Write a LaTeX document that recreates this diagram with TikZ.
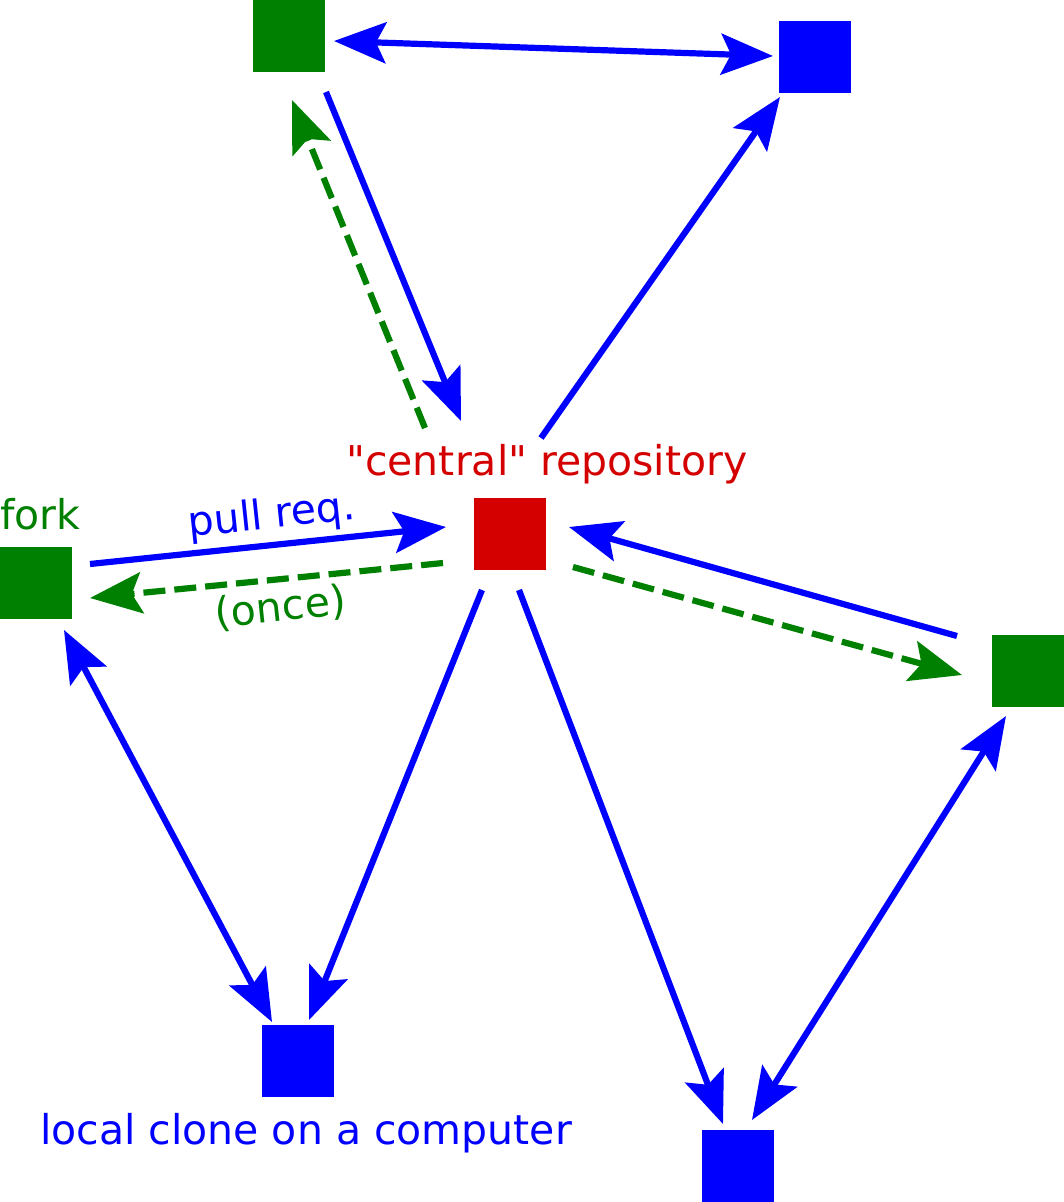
\documentclass[tikz,border=0pt]{standalone}
\usepackage{fontspec}
\setmainfont{DejaVu Sans}
\usetikzlibrary{arrows.meta}

\definecolor{repored}{RGB}{212,0,0}
\definecolor{forkgreen}{RGB}{0,128,0}
\definecolor{cloneblue}{RGB}{0,0,255}

\tikzset{
  repo/.style={rectangle, minimum size=72pt, inner sep=0pt, fill=#1},
  flow/.style={line width=6.2pt, draw=cloneblue, -{Stealth[length=52pt,width=41pt,inset=10pt]}},
  twoway/.style={flow, {Stealth[length=52pt,width=41pt,inset=10pt]}-{Stealth[length=52pt,width=41pt,inset=10pt]}},
  onceflow/.style={flow, draw=forkgreen, dash pattern=on 22pt off 9pt},
  lbl/.style={inner sep=0pt, font=\fontsize{41}{49}\selectfont}
}

\begin{document}
\begin{tikzpicture}[x=1pt,y=-1pt]
  \useasboundingbox (0,0) rectangle (1064,1202);

  % repositories
  \node[repo=repored]    (central)  at (510,534)  {};
  \node[repo=forkgreen]  (topfork)  at (289,36)   {};
  \node[repo=cloneblue]  (topclone) at (815,57)   {};
  \node[repo=forkgreen]  (fork)     at (36,583)   {};
  \node[repo=forkgreen]  (rfork)    at (1028,671) {};
  \node[repo=cloneblue]  (clone)    at (298,1061) {};
  \node[repo=cloneblue]  (rclone)   at (738,1166) {};

  % labels
  \node[lbl, text=forkgreen, anchor=base west] (forklbl) at (0,529) {fork};
  \node[lbl, text=repored, anchor=base] (centrallbl) at (547,475) {\textquotedbl central\textquotedbl{} repository};
  \node[lbl, text=cloneblue, anchor=base] (clonelbl) at (306,1144) {local clone on a computer};
  \node[lbl, text=cloneblue, anchor=base, rotate=6] (pulllbl) at (273,528) {pull req.};
  \node[lbl, text=forkgreen, anchor=base, rotate=6] (oncelbl) at (282,621) {(once)};

  % top fork and its clone
  \draw[twoway] ([shift={(45,5)}]topfork.center) -- ([shift={(-42,-1)}]topclone.center);
  \draw[flow] ([shift={(37,56)}]topfork.center) -- ([shift={(-49,-113)}]central.center);
  \draw[onceflow] ([shift={(-85,-106)}]central.center) -- ([shift={(3,64)}]topfork.center);
  \draw[flow] ([shift={(31,-96)}]central.center) -- ([shift={(-35,40)}]topclone.center);

  % left fork
  \draw[flow] ([shift={(54,-19)}]fork.center) -- ([shift={(-64,-7)}]central.center);
  \draw[onceflow] ([shift={(-67,29)}]central.center) -- ([shift={(54,15)}]fork.center);
  \draw[twoway] ([shift={(28,47)}]fork.center) -- ([shift={(-26,-39)}]clone.center);
  \draw[flow] ([shift={(-28,56)}]central.center) -- ([shift={(11,-41)}]clone.center);

  % right fork
  \draw[flow] ([shift={(-71,-35)}]rfork.center) -- ([shift={(59,-7)}]central.center);
  \draw[onceflow] ([shift={(63,33)}]central.center) -- ([shift={(-66,4)}]rfork.center);
  \draw[twoway] ([shift={(-22,45)}]rfork.center) -- ([shift={(14,-46)}]rclone.center);
  \draw[flow] ([shift={(9,56)}]central.center) -- ([shift={(-15,-42)}]rclone.center);
\end{tikzpicture}
\end{document}
